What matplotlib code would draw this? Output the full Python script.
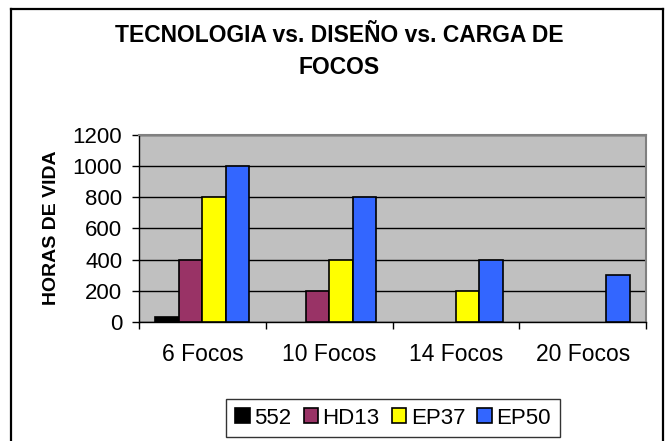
import matplotlib
matplotlib.use("Agg")
import matplotlib.pyplot as plt
import numpy as np
from matplotlib.lines import Line2D

categories = ["6 Focos", "10 Focos", "14 Focos", "20 Focos"]
series_names = ["552", "HD13", "EP37", "EP50"]
s552 = [35, np.nan, np.nan, np.nan]
hd13 = [400, 200, np.nan, np.nan]
ep37 = [800, 400, 200, np.nan]
ep50 = [1000, 800, 400, 300]
series_values = [s552, hd13, ep37, ep50]
colors = ["#000000", "#993366", "#FFFF00", "#3366FF"]
yticks = [0, 200, 400, 600, 800, 1000, 1200]

plt.rcParams['font.family'] = ['Liberation Sans', 'DejaVu Sans']

W, H = 665, 441
fig = plt.figure(figsize=(W / 100, H / 100), dpi=100)
fig.patch.set_facecolor("white")

fx = lambda px: px / W
fy = lambda py: 1 - py / H
fig.add_artist(Line2D([fx(11), fx(11)], [fy(9), -0.1], color="black", lw=1.6, transform=fig.transFigure))
fig.add_artist(Line2D([fx(11), fx(663)], [fy(9), fy(9)], color="black", lw=1.6, transform=fig.transFigure))
fig.add_artist(Line2D([fx(663), fx(663)], [fy(9), -0.1], color="black", lw=1.6, transform=fig.transFigure))

left, right, top, bottom = 139, 646, 135, 322
ax = fig.add_axes([fx(left), fy(bottom), (right - left) / W, (bottom - top) / H])
ax.set_facecolor("#C0C0C0")

n = len(categories)
w = 0.185
x = np.arange(n) + 0.5
for i, (name, vals, c) in enumerate(zip(series_names, series_values, colors)):
    ax.bar(x + (i - 1.5) * w, vals, width=w, color=c, edgecolor="black", linewidth=1.2,
           label=name, zorder=3)

ax.set_xlim(0, n)
ax.set_ylim(0, 1200)
ax.set_yticks(yticks)
ax.set_yticklabels([str(v) for v in yticks], fontsize=16)
ax.yaxis.grid(True, color="black", lw=1, zorder=1)
ax.set_axisbelow(True)

ax.set_xticks(np.arange(n + 1))
ax.set_xticklabels([])
ax.set_xticks(x, minor=True)
ax.set_xticklabels(categories, minor=True, fontsize=16.5)
ax.tick_params(axis="x", which="major", direction="out", length=5, width=1, color="black")
ax.tick_params(axis="x", which="minor", length=0, pad=15)
ax.tick_params(axis="y", direction="out", length=5, width=1, pad=7)

for s in ["left", "bottom"]:
    ax.spines[s].set_color("black")
    ax.spines[s].set_linewidth(1)
for s in ["top", "right"]:
    ax.spines[s].set_color("#808080")
    ax.spines[s].set_linewidth(1.5)

fig.text(fx(52), fy(228), "HORAS DE VIDA", rotation=90, ha="center", va="center",
         fontsize=14, fontweight="bold")

fig.text(fx(339), fy(36), "TECNOLOGIA vs. DISEÑO vs. CARGA DE", ha="center", va="center",
         fontsize=16.5, fontweight="bold")
fig.text(fx(339), fy(67), "FOCOS", ha="center", va="center", fontsize=16.5, fontweight="bold")

leg = fig.legend(loc="center", bbox_to_anchor=(fx(393), fy(418)), ncol=4, fontsize=16,
                 frameon=True, fancybox=False, shadow=False, handlelength=0.65, handleheight=0.65,
                 handletextpad=0.2, columnspacing=0.55, borderpad=0.4, borderaxespad=0)
leg.get_frame().set_edgecolor("black")
leg.get_frame().set_linewidth(1)

fig.savefig("out.png", dpi=100, facecolor="white")
